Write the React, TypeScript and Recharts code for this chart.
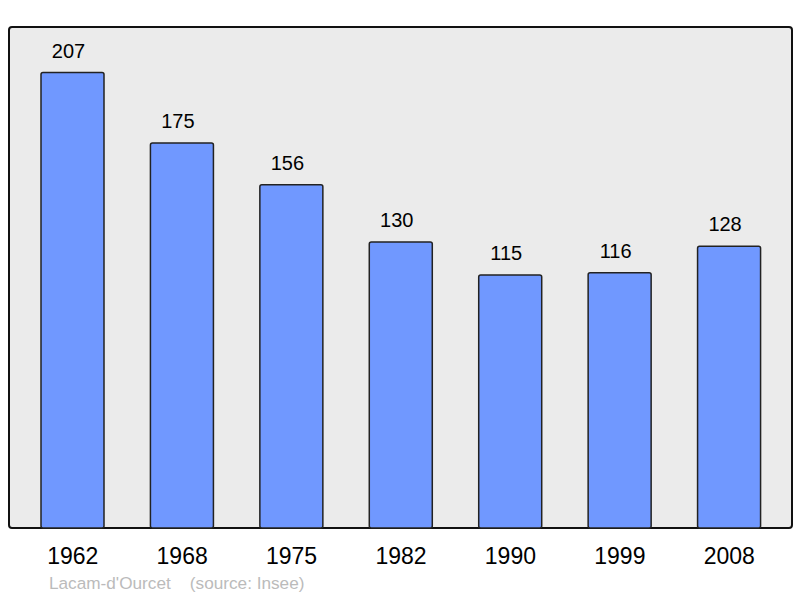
import { BarChart, Bar, XAxis, YAxis, LabelList } from 'recharts';

const years = ['1962', '1968', '1975', '1982', '1990', '1999', '2008'];
const population = [207, 175, 156, 130, 115, 116, 128];

const data = years.map((year, i) => ({ year, population: population[i] }));

const font = '"Liberation Sans", Arial, sans-serif';

function YearTick(props: any) {
  const { x, y, payload } = props;
  return (
    <text x={x} y={y + 28} textAnchor="middle" fontSize={23} fill="#000" fontFamily={font}>
      {payload.value}
    </text>
  );
}

function ValueLabel(props: any) {
  const { x, y, width, value } = props;
  return (
    <text x={x + width / 2 - 4} y={y - 15} textAnchor="middle" fontSize={20} fill="#000" fontFamily={font}>
      {value}
    </text>
  );
}

export default function App() {
  return (
    <div style={{ position: 'absolute', left: 0, top: 0, width: 800, height: 598, background: '#fff' }}>
      <div
        style={{
          position: 'absolute',
          left: 8,
          top: 26,
          width: 781,
          height: 499,
          background: '#ebebeb',
          border: '2px solid #111',
          borderRadius: 4,
        }}
      />
      <div style={{ position: 'absolute', left: 0, top: 0 }}>
        <BarChart
          width={800}
          height={598}
          data={data}
          margin={{ top: 27, right: 8, bottom: 40, left: 9 }}
          barCategoryGap={0}
        >
          <XAxis
            dataKey="year"
            axisLine={false}
            tickLine={false}
            tick={<YearTick />}
            padding={{ left: 9, right: 8 }}
            interval={0}
            height={30}
          />
          <YAxis hide domain={[0, 227.7]} />
          <Bar
            dataKey="population"
            fill="#7098ff"
            stroke="#222"
            strokeWidth={1.5}
            barSize={63}
            radius={2}
            isAnimationActive={false}
          >
            <LabelList dataKey="population" content={<ValueLabel />} />
          </Bar>
        </BarChart>
      </div>
      <div
        style={{
          position: 'absolute',
          left: 49,
          top: 573,
          fontFamily: font,
          fontSize: 17.2,
          color: '#bbbbbb',
          whiteSpace: 'pre',
        }}
      >
        {"Lacam-d'Ourcet    (source: Insee)"}
      </div>
    </div>
  );
}
